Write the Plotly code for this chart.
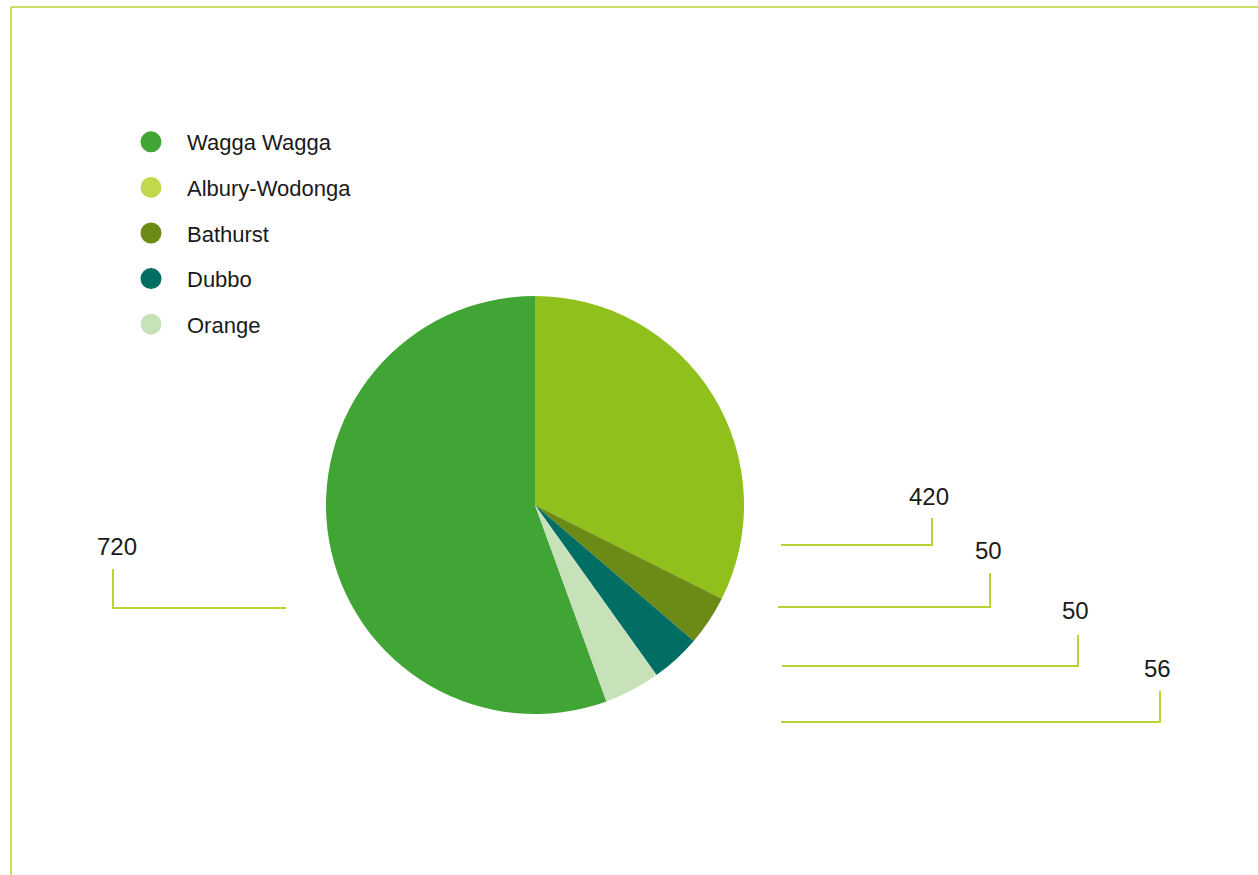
import plotly.graph_objects as go

# ---- data ----
labels = ["Wagga Wagga", "Albury-Wodonga", "Bathurst", "Dubbo", "Orange"]
values = [720, 420, 50, 50, 56]
slice_colors = ["#41a535", "#8fc01b", "#6b8a16", "#006e62", "#c7e2b8"]
legend_colors = ["#41a535", "#c2d84c", "#6b8a16", "#006e62", "#c7e2b8"]

W, H = 1258, 875
LINE_COLOR = "#b9d234"
FONT = "Liberation Sans, Arial, Helvetica, sans-serif"
TEXT_COLOR = "#1a1a1a"

def px(x):
    return x / W

def py(y):
    return 1 - y / H

fig = go.Figure()

# pie: center (535,505), radius ~209 px
cx, cy, r = 535, 505, 209
fig.add_trace(go.Pie(
    labels=labels,
    values=values,
    sort=False,
    direction="clockwise",
    rotation=360 - 360 * values[0] / sum(values),
    marker=dict(colors=slice_colors, line=dict(width=0)),
    textinfo="none",
    hoverinfo="label+value",
    showlegend=False,
    domain=dict(x=[px(cx - r), px(cx + r)], y=[py(cy + r), py(cy - r)]),
))

# legend via dummy scatter traces (circle markers)
for i, (lab, col) in enumerate(zip(labels, legend_colors)):
    fig.add_trace(go.Scatter(
        x=[None], y=[None], mode="markers", name=lab,
        marker=dict(color=col, size=16, symbol="circle",
                    line=dict(color=col, width=5)),
        legendgroup=f"g{i}", showlegend=True,
    ))

# leader lines + value labels
callouts = [
    # (slice index, label x, label y, [(x,y), ...]) in px
    (0, 117, 546, [(113, 569), (113, 608), (286, 608)]),
    (1, 929, 497, [(781, 545), (932, 545), (932, 518)]),
    (2, 988, 550, [(778, 607), (990, 607), (990, 573)]),
    (3, 1075, 610, [(782, 666), (1078, 666), (1078, 635)]),
    (4, 1157, 668, [(781, 722), (1160, 722), (1160, 691)]),
]

shapes = []
annotations = []
for idx, lx, ly, pts in callouts:
    path = "M " + " L ".join(f"{px(x)},{py(y)}" for x, y in pts)
    shapes.append(dict(type="path", path=path, xref="paper", yref="paper",
                       line=dict(color=LINE_COLOR, width=2)))
    annotations.append(dict(text=str(values[idx]), x=px(lx), y=py(ly),
                            xref="paper", yref="paper", showarrow=False,
                            xanchor="center", yanchor="middle",
                            font=dict(family=FONT, size=24, color=TEXT_COLOR)))

# frame lines (top and left)
shapes.append(dict(type="line", xref="paper", yref="paper",
                   x0=px(11), x1=1, y0=py(7), y1=py(7),
                   line=dict(color=LINE_COLOR, width=1.5)))
shapes.append(dict(type="line", xref="paper", yref="paper",
                   x0=px(11), x1=px(11), y0=py(7), y1=0,
                   line=dict(color=LINE_COLOR, width=1.5)))

fig.update_layout(
    width=W, height=H,
    margin=dict(l=0, r=0, t=0, b=0),
    paper_bgcolor="white", plot_bgcolor="white",
    xaxis=dict(visible=False), yaxis=dict(visible=False),
    font=dict(family=FONT, size=22, color=TEXT_COLOR),
    legend=dict(x=px(115), y=py(121), xanchor="left", yanchor="top",
                font=dict(family=FONT, size=22, color=TEXT_COLOR),
                itemwidth=62, tracegroupgap=14, bgcolor="rgba(0,0,0,0)"),
    shapes=shapes,
    annotations=annotations,
)

fig.write_html("out.html")
